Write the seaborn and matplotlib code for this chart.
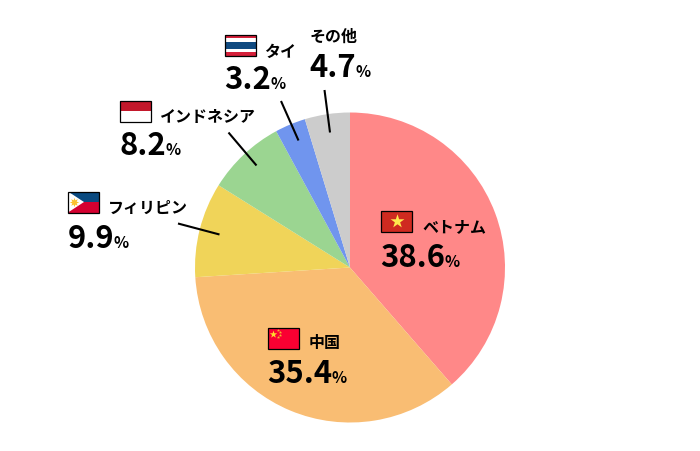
import matplotlib
matplotlib.use("Agg")
import matplotlib.pyplot as plt
from matplotlib.patches import Rectangle, Polygon
import seaborn as sns

countries = ["ベトナム", "中国", "フィリピン", "インドネシア", "タイ", "その他"]
shares = [38.6, 35.4, 9.9, 8.2, 3.2, 4.7]
colors = ["#ff8888", "#f9bd73", "#f0d459", "#9bd591", "#7095ee", "#cccccc"]

sns.set_theme(style="white")
plt.rcParams["font.family"] = ["Noto Sans CJK JP", "DejaVu Sans"]

fig = plt.figure(figsize=(7, 4.52), dpi=100)
ax = fig.add_axes([0, 0, 1, 1])
ax.pie(shares, colors=colors, center=(350, 268.5), radius=155, startangle=270,
       counterclock=True, wedgeprops=dict(linewidth=0))
ax.set_xlim(0, 700)
ax.set_ylim(452, 0)
ax.set_aspect("equal")
ax.axis("off")

# name x, name baseline, value x, value baseline
text_pos = [(422, 232, 380.5, 267), (309, 348, 267.5, 383), (108, 213, 67.5, 248),
            (160, 122, 119.5, 155), (264.5, 57, 224.5, 89), (309.5, 42, 309.5, 77)]
flag_pos = [(381, 211.5), (268, 328.5), (68, 192.5), (120, 101.5), (225, 35.5)]
leaders = [None, None, ((178, 224.5), (219.5, 235.5)), ((228.5, 133.5), (256.5, 166.5)),
           ((281, 102), (298.5, 141.5)), ((324.5, 91), (330, 133.5))]

renderer = fig.canvas.get_renderer()
for name, val, (nx, ny, vx, vy), lead in zip(countries, shares, text_pos, leaders):
    ax.text(nx, ny, name, fontsize=11.5, fontweight="bold", color="#000000", va="baseline", ha="left")
    t = ax.text(vx, vy, f"{val:.1f}", fontsize=22.3, fontweight="bold", color="#000000", va="baseline", ha="left")
    w = t.get_window_extent(renderer).width
    ax.text(vx + w - 1, vy, "%", fontsize=11.3, fontweight="bold", color="#000000", va="baseline", ha="left")
    if lead:
        ax.plot([lead[0][0], lead[1][0]], [lead[0][1], lead[1][1]], color="black", lw=1.5,
                solid_capstyle="butt", zorder=3)

W, H = 31, 21

def rect(x, y, w, h, c):
    ax.add_patch(Rectangle((x, y), w, h, facecolor=c, edgecolor="none", zorder=4))

def border(x, y):
    ax.add_patch(Rectangle((x, y), W, H, facecolor="none", edgecolor="black", lw=0.9, zorder=6))

# Vietnam
x, y = flag_pos[0]
rect(x, y, W, H, "#cf2a20")
ax.scatter([x + W / 2], [y + H / 2], marker="*", s=110, color="#ffe84d", linewidths=0, zorder=5)
border(x, y)
# China
x, y = flag_pos[1]
rect(x, y, W, H, "#fa0032")
ax.scatter([x + 5], [y + 6], marker="*", s=32, color="#ffdc2e", linewidths=0, zorder=5)
ax.scatter([x + 10, x + 12, x + 12, x + 10], [y + 2.5, y + 4.5, y + 7.5, y + 9.5], marker="*", s=6,
           color="#f5b32e", linewidths=0, zorder=5)
border(x, y)
# Philippines
x, y = flag_pos[2]
rect(x, y, W, H / 2, "#0a4a80")
rect(x, y + H / 2, W, H / 2, "#d40030")
ax.add_patch(Polygon([(x, y), (x + 16, y + H / 2), (x, y + H)], facecolor="white", edgecolor="none", zorder=5))
ax.scatter([x + 5.5], [y + H / 2], marker=(8, 1, 0), s=45, color="#fbc02d", linewidths=0, zorder=5.5)
border(x, y)
# Indonesia
x, y = flag_pos[3]
rect(x, y, W, H / 2, "#c3182b")
rect(x, y + H / 2, W, H / 2, "#ffffff")
border(x, y)
# Thailand
x, y = flag_pos[4]
rect(x, y, W, H, "#d5203a")
rect(x, y + 3.5, W, 14, "#ffffff")
rect(x, y + 7, W, 7, "#0f4a80")
border(x, y)

fig.savefig("out.png", dpi=100, facecolor="white")
